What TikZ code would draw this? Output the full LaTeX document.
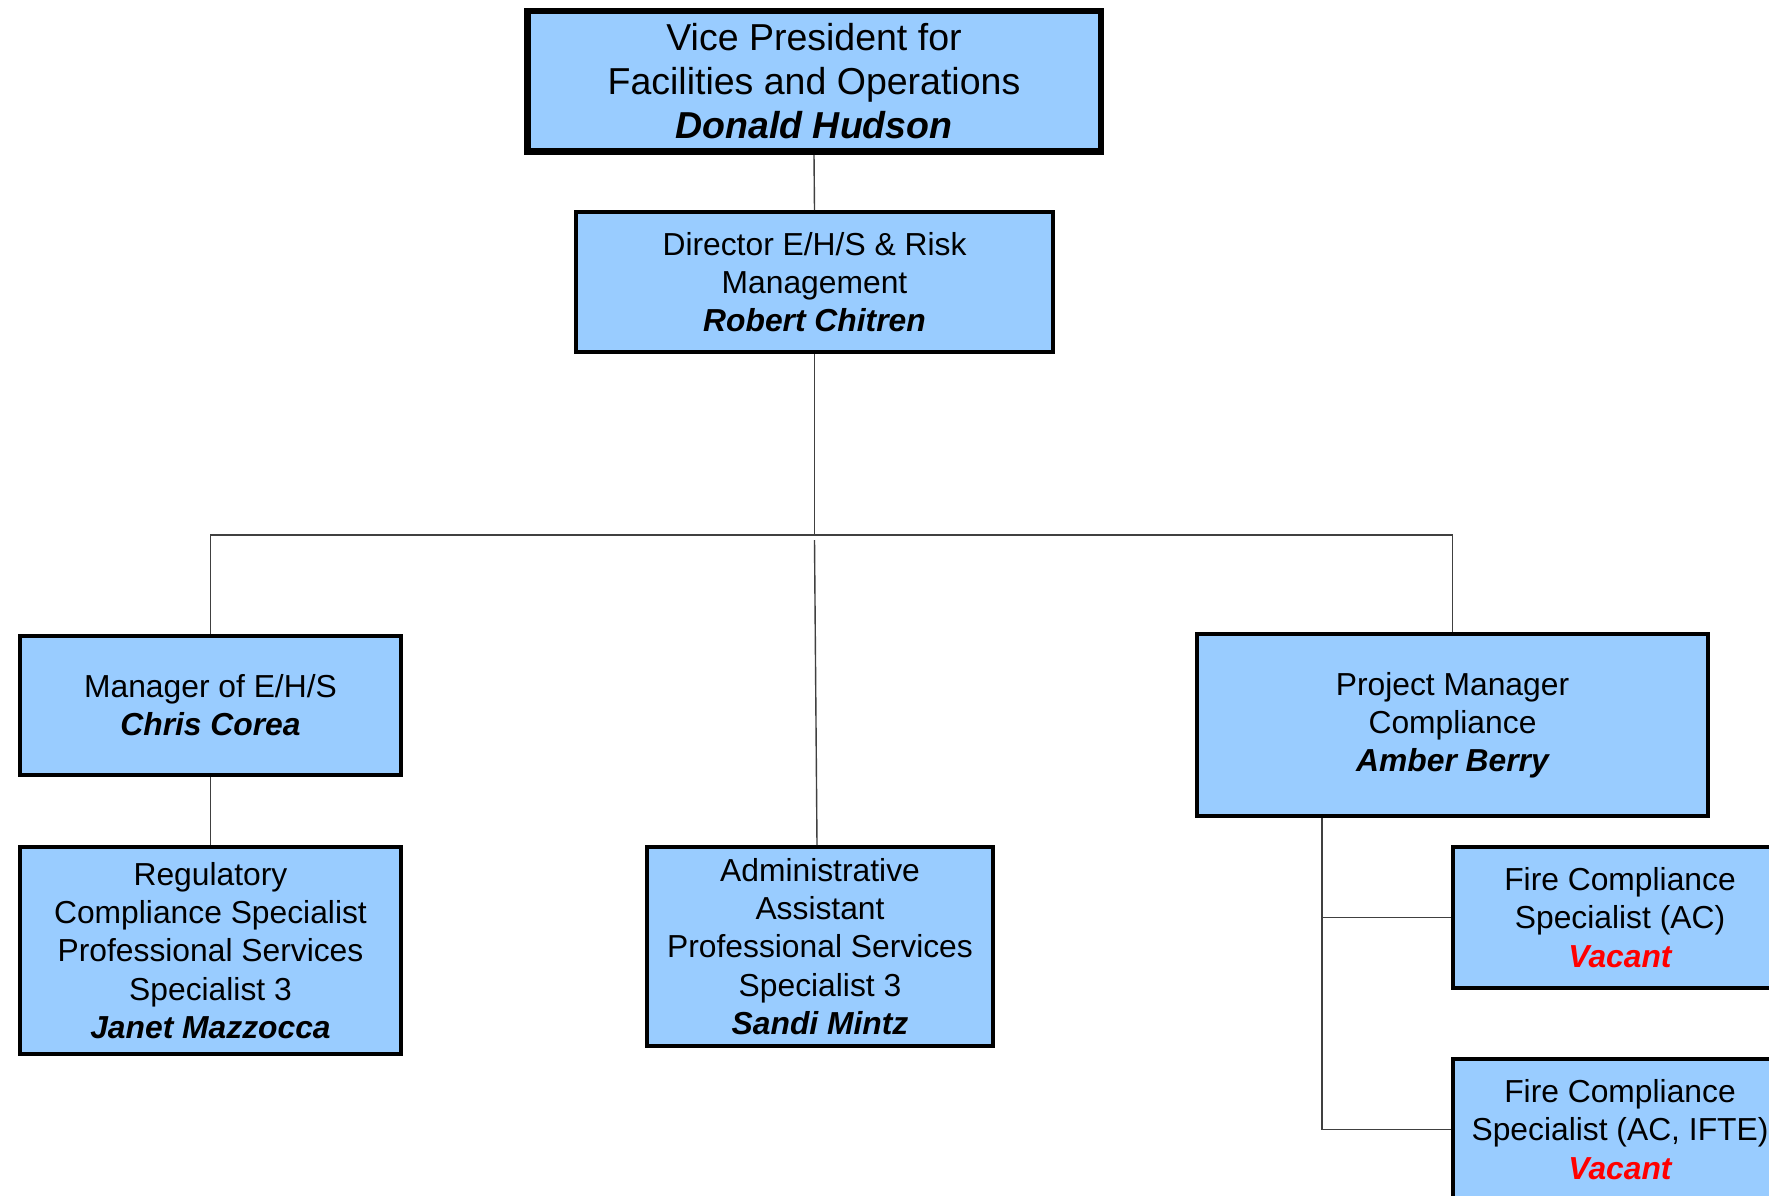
\documentclass[tikz,border=0pt]{standalone}
\usepackage{fontspec}
\setmainfont{Liberation Sans}
\definecolor{boxblue}{HTML}{99CCFF}
\definecolor{linegray}{HTML}{404040}
\definecolor{vacred}{HTML}{FF0000}
\newcommand\pname[1]{{\bfseries\itshape #1}}
\newcommand\vacant{{\bfseries\itshape\color{vacred}Vacant}}
\begin{document}
\begin{tikzpicture}[x=1pt,y=-1pt,
  box/.style={draw=black,line width=4pt,fill=boxblue,align=center,inner sep=0pt,
    font=\fontsize{31.8}{38.2}\selectfont},
  vpbox/.style={box,line width=6.5pt,font=\fontsize{37.5}{44}\selectfont},
  conn/.style={draw=linegray,line width=1.4pt}]
\useasboundingbox (0,0) rectangle (1769,1196);
\clip (0,0) rectangle (1769,1196);
\fill[white] (0,0) rectangle (1769,1196);

\node[vpbox,minimum width=573.5pt,minimum height=140.5pt] (vp) at (814,81.5)
  {Vice President for\\Facilities and Operations\\\pname{Donald Hudson}};
\node[box,minimum width=477pt,minimum height=140pt] (dir) at (814.5,282)
  {Director E/H/S \& Risk\\Management\\\pname{Robert Chitren}};
\node[box,minimum width=381pt,minimum height=139pt] (mgr) at (210.5,705.5)
  {Manager of E/H/S\\\pname{Chris Corea}};
\node[box,minimum width=381pt,minimum height=207pt] (reg) at (210.5,950.5)
  {Regulatory\\Compliance Specialist\\Professional Services\\Specialist 3\\\pname{Janet Mazzocca}};
\node[box,minimum width=346pt,minimum height=199pt] (adm) at (820,946.5)
  {Administrative\\Assistant\\Professional Services\\Specialist 3\\\pname{Sandi Mintz}};
\node[box,minimum width=511pt,minimum height=182pt] (pm) at (1452.5,725)
  {Project Manager\\Compliance\\\pname{Amber Berry}};
\node[box,minimum width=334pt,minimum height=141pt] (f1) at (1620,917.5)
  {Fire Compliance\\Specialist (AC)\\\vacant};
\node[box,minimum width=334pt,minimum height=141pt] (f2) at (1620,1129.5)
  {Fire Compliance\\Specialist (AC, IFTE)\\\vacant};

\coordinate (j) at (814.5,535);
\coordinate (a0) at (814.5,540);
\coordinate (pmb) at (1322,818);

\draw[conn] (vp.south) -- (dir.north);
\draw[conn] (dir.south) -- (j);
\draw[conn] (mgr.north) -- (mgr.north |- j) -- (pm.north |- j) -- (pm.north);
\draw[conn] (a0) -- ([xshift=-3pt]adm.north);
\draw[conn] (mgr.south) -- (reg.north);
\draw[conn] (pmb) -- (pmb |- f2.west) -- (f2.west);
\draw[conn] (pmb |- f1.west) -- (f1.west);
\end{tikzpicture}
\end{document}
